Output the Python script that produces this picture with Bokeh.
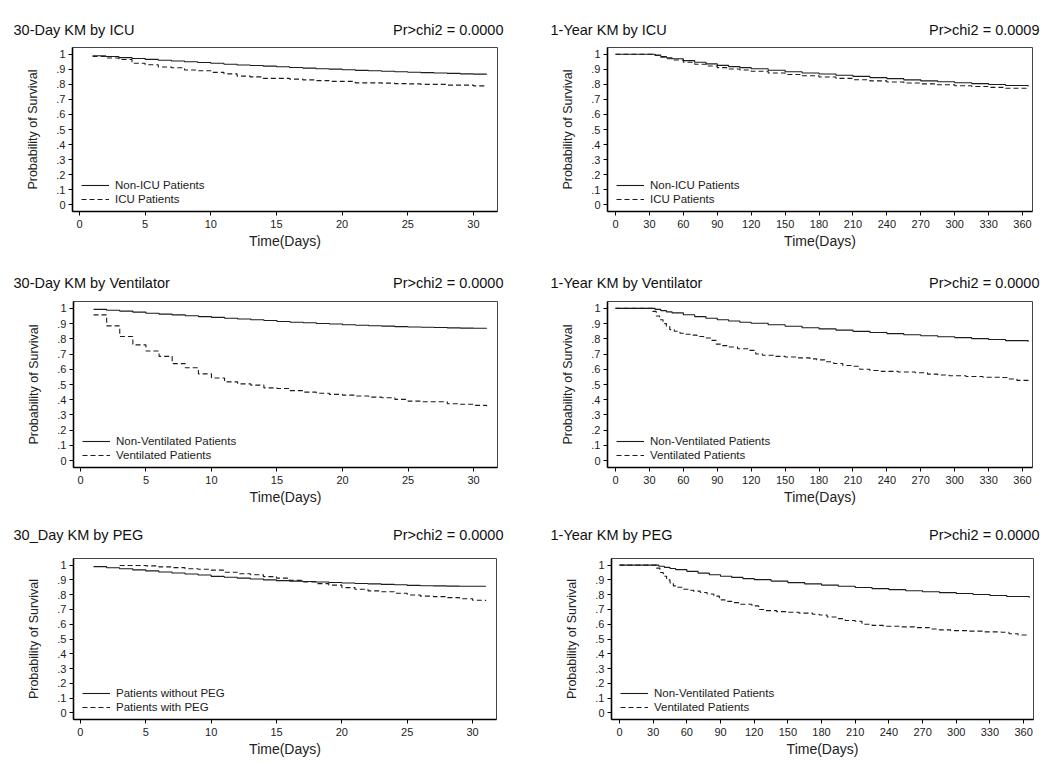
from bokeh.plotting import figure
from bokeh.layouts import column, row
from bokeh.models import (Legend, LegendItem, FixedTicker,
                          CustomJSTickFormatter, Range1d)
from bokeh.core.properties import value
from bokeh.embed import file_html
from bokeh.resources import INLINE

# ---------------- data ----------------
Y_TICKS = [0, 0.1, 0.2, 0.3, 0.4, 0.5, 0.6, 0.7, 0.8, 0.9, 1.0]
X30_TICKS = [0, 5, 10, 15, 20, 25, 30]
X365_TICKS = [0, 30, 60, 90, 120, 150, 180, 210, 240, 270, 300, 330, 360]

TITLES = [["30-Day KM by ICU", "1-Year KM by ICU"],
          ["30-Day KM by Ventilator", "1-Year KM by Ventilator"],
          ["30_Day KM by PEG", "1-Year KM by PEG"]]
PVALUES = [["Pr>chi2 = 0.0000", "Pr>chi2 = 0.0009"],
           ["Pr>chi2 = 0.0000", "Pr>chi2 = 0.0000"],
           ["Pr>chi2 = 0.0000", "Pr>chi2 = 0.0000"]]

# 30-Day KM by ICU
icu30_days = list(range(1, 32))
icu30_non = [.990, .985, .978, .972, .966, .960, .955, .950, .945, .940, .934,
             .929, .925, .921, .917, .912, .908, .904, .901, .897, .893, .890,
             .887, .884, .881, .878, .876, .873, .870, .868, .866]
icu30_icu = [.985, .975, .965, .940, .930, .915, .910, .895, .890, .880, .870,
             .855, .850, .840, .840, .835, .830, .825, .820, .820, .810, .810,
             .808, .805, .803, .800, .800, .795, .795, .790, .790]

# 1-Year KM by ICU
icu365_days = [0, 30, 35, 40, 45, 50, 60, 70, 80, 90, 100, 110, 120, 135, 150,
               165, 180, 195, 210, 225, 240, 255, 270, 285, 300, 315, 330, 345, 365]
icu365_non = [1, 1, .994, .985, .977, .970, .958, .947, .936, .926, .918, .911,
              .904, .894, .884, .876, .869, .861, .853, .845, .838, .830, .823,
              .817, .811, .805, .799, .792, .785]
icu365_icu = [1, 1, .992, .980, .970, .962, .947, .934, .922, .911, .902, .895,
              .887, .876, .866, .857, .849, .840, .831, .823, .816, .809, .803,
              .797, .791, .786, .780, .774, .767]

# 30-Day KM by Ventilator
vent30_days = list(range(1, 32))
vent30_non = [.993, .988, .982, .975, .968, .962, .957, .951, .946, .941, .935,
              .930, .925, .920, .914, .909, .905, .901, .897, .892, .889, .886,
              .883, .880, .878, .876, .874, .872, .870, .869, .868]
vent30_vent = [.957, .885, .815, .760, .720, .685, .637, .610, .570, .543, .517,
               .504, .496, .478, .474, .460, .450, .443, .435, .430, .424, .417,
               .413, .402, .391, .387, .387, .374, .370, .363, .358]

# 1-Year KM by Ventilator
vent365_non_days = [0, 30, 35, 40, 45, 50, 60, 70, 80, 90, 100, 110, 120, 135, 150,
                    165, 180, 195, 210, 225, 240, 255, 270, 285, 300, 315, 330, 345, 365]
vent365_non = [1, 1, .993, .985, .977, .970, .958, .946, .935, .925, .917, .909,
               .902, .892, .882, .873, .865, .857, .849, .841, .834, .827, .820,
               .814, .808, .801, .795, .788, .780]
vent365_vent_days = [0, 30, 33, 36, 39, 42, 45, 48, 52, 57, 62, 66, 72, 78, 84, 89,
                     94, 100, 108, 118, 124, 130, 140, 150, 160, 172, 178, 185, 193,
                     201, 210, 216, 225, 235, 250, 265, 276, 285, 295, 310, 325, 340,
                     347, 355, 365]
vent365_vent = [1, 1, .98, .95, .925, .90, .88, .86, .85, .837, .83, .824, .815,
                .805, .79, .765, .755, .746, .735, .724, .70, .692, .685, .681, .675,
                .668, .662, .649, .638, .625, .62, .60, .592, .586, .582, .577, .568,
                .562, .557, .553, .548, .546, .536, .527, .524]

# 30_Day KM by PEG
peg30_without_days = list(range(1, 32))
peg30_without = [.990, .982, .976, .968, .961, .954, .947, .940, .933, .924, .918,
                 .912, .906, .900, .895, .892, .889, .886, .883, .879, .876, .873,
                 .870, .867, .863, .861, .860, .858, .857, .857, .856]
peg30_with_days = list(range(3, 32))
peg30_with = [.998, .998, .995, .988, .983, .976, .972, .966, .952, .942, .935,
              .922, .912, .897, .887, .875, .865, .848, .837, .826, .820, .810,
              .798, .790, .787, .780, .772, .762, .758]

# 1-Year KM by PEG (the published panel repeats the ventilator curves)
peg365_non_days = vent365_non_days
peg365_non = vent365_non
peg365_vent_days = vent365_vent_days
peg365_vent = vent365_vent

# ---------------- styling ----------------
FONT = "Liberation Sans"
INK = "#1c1c1c"
Y0, Y1 = -0.045, 1.045
TOTAL_W = 1042


def header(titles, pvals, h, mid):
    """Strip above a row of panels holding the panel titles and p-values."""
    p = figure(width=TOTAL_W, height=h, x_range=Range1d(0, TOTAL_W),
               y_range=Range1d(0, h), output_backend="svg", title=None,
               toolbar_location=None, x_axis_type=None, y_axis_type=None,
               min_border=0)
    p.outline_line_color = None
    p.background_fill_color = "white"
    p.border_fill_color = "white"
    p.xgrid.visible = False
    p.ygrid.visible = False
    p.text(x=[13, 550], y=[mid, mid], text=titles, text_align="left",
           text_baseline="middle", text_font=value(FONT),
           text_font_size="14.5px", text_color="#111111")
    p.text(x=[503, 1039], y=[mid, mid], text=pvals, text_align="right",
           text_baseline="middle", text_font=value(FONT),
           text_font_size="14.5px", text_color="#111111")
    return p


def panel(x_ticks, xr, series, geom):
    w, h, bl, br, bt, bb = geom
    p = figure(width=w, height=h, x_range=Range1d(*xr), y_range=Range1d(Y0, Y1),
               output_backend="svg", toolbar_location=None, title=None,
               min_border_left=bl, min_border_right=br,
               min_border_top=bt, min_border_bottom=bb)
    p.background_fill_color = "white"
    p.border_fill_color = "white"
    p.outline_line_color = "#444444"
    p.outline_line_width = 1
    p.xgrid.visible = False
    p.ygrid.visible = False

    items = []
    for xs, ys, dash, lab in series:
        r = p.step(xs, ys, mode="after", line_color=INK, line_width=1.1,
                   line_dash=dash)
        items.append(LegendItem(label=lab, renderers=[r]))

    leg = Legend(items=items, location=(5, 1), padding=4, margin=0, spacing=0,
                 glyph_width=28, glyph_height=14, label_height=14,
                 label_standoff=6, label_text_font=FONT,
                 label_text_font_size="11.5px", label_text_color=INK,
                 background_fill_alpha=0, border_line_alpha=0)
    p.add_layout(leg, "center")

    for ax in (p.xaxis[0], p.yaxis[0]):
        ax.axis_line_color = "black"
        ax.axis_line_width = 1.6
        ax.major_tick_line_color = "black"
        ax.major_tick_out = 4
        ax.major_tick_in = 0
        ax.minor_tick_out = 0
        ax.minor_tick_in = 0
        ax.major_label_standoff = 4
        ax.major_label_text_font = FONT
        ax.major_label_text_font_size = "11px"
        ax.major_label_text_color = INK
        ax.axis_label_text_font = FONT
        ax.axis_label_text_font_style = "normal"
        ax.axis_label_text_color = "#222222"

    p.xaxis.ticker = FixedTicker(ticks=x_ticks)
    p.xaxis.axis_label = "Time(Days)"
    p.xaxis.axis_label_text_font_size = "14px"
    p.xaxis.axis_label_standoff = 2

    p.yaxis.ticker = FixedTicker(ticks=Y_TICKS)
    p.yaxis.major_label_standoff = 3
    p.yaxis.formatter = CustomJSTickFormatter(code="""
        if (tick <= 0.0001) return '0';
        if (tick >= 0.9999) return '1';
        return tick.toFixed(1).slice(1);""")
    p.yaxis.axis_label = "Probability of Survival"
    p.yaxis.axis_label_text_font_size = "12.5px"
    p.yaxis.axis_label_standoff = 13
    return p


X30 = (-0.53, 31.83)
X365 = (-7.1, 368.8)

h1 = header(TITLES[0], PVALUES[0], 44, 15)
p1 = panel(X30_TICKS, X30,
           [(icu30_days, icu30_non, "solid", "Non-ICU Patients"),
            (icu30_days, icu30_icu, "5 3", "ICU Patients")],
           (525, 218, 72, 28, 3, 46))
p2 = panel(X365_TICKS, X365,
           [(icu365_days, icu365_non, "solid", "Non-ICU Patients"),
            (icu365_days, icu365_icu, "5 3", "ICU Patients")],
           (517, 218, 82, 10, 1, 51))

h2 = header(TITLES[1], PVALUES[1], 35, 15)
p3 = panel(X30_TICKS, X30,
           [(vent30_days, vent30_non, "solid", "Non-Ventilated Patients"),
            (vent30_days, vent30_vent, "5 3", "Ventilated Patients")],
           (525, 219, 73, 28, 4, 49))
p4 = panel(X365_TICKS, X365,
           [(vent365_non_days, vent365_non, "solid", "Non-Ventilated Patients"),
            (vent365_vent_days, vent365_vent, "5 3", "Ventilated Patients")],
           (517, 219, 82, 10, 2, 49))

h3 = header(TITLES[2], PVALUES[2], 36, 18)
p5 = panel(X30_TICKS, X30,
           [(peg30_without_days, peg30_without, "solid", "Patients without PEG"),
            (peg30_with_days, peg30_with, "5 3", "Patients with PEG")],
           (525, 217, 73, 29, 6, 46))
p6 = panel(X365_TICKS, X365,
           [(peg365_non_days, peg365_non, "solid", "Non-Ventilated Patients"),
            (peg365_vent_days, peg365_vent, "5 3", "Ventilated Patients")],
           (517, 217, 86, 9, 2, 50))

layout = column(h1, row(p1, p2), h2, row(p3, p4), h3, row(p5, p6))

with open("out.html", "w") as f:
    f.write(file_html(layout, INLINE))
